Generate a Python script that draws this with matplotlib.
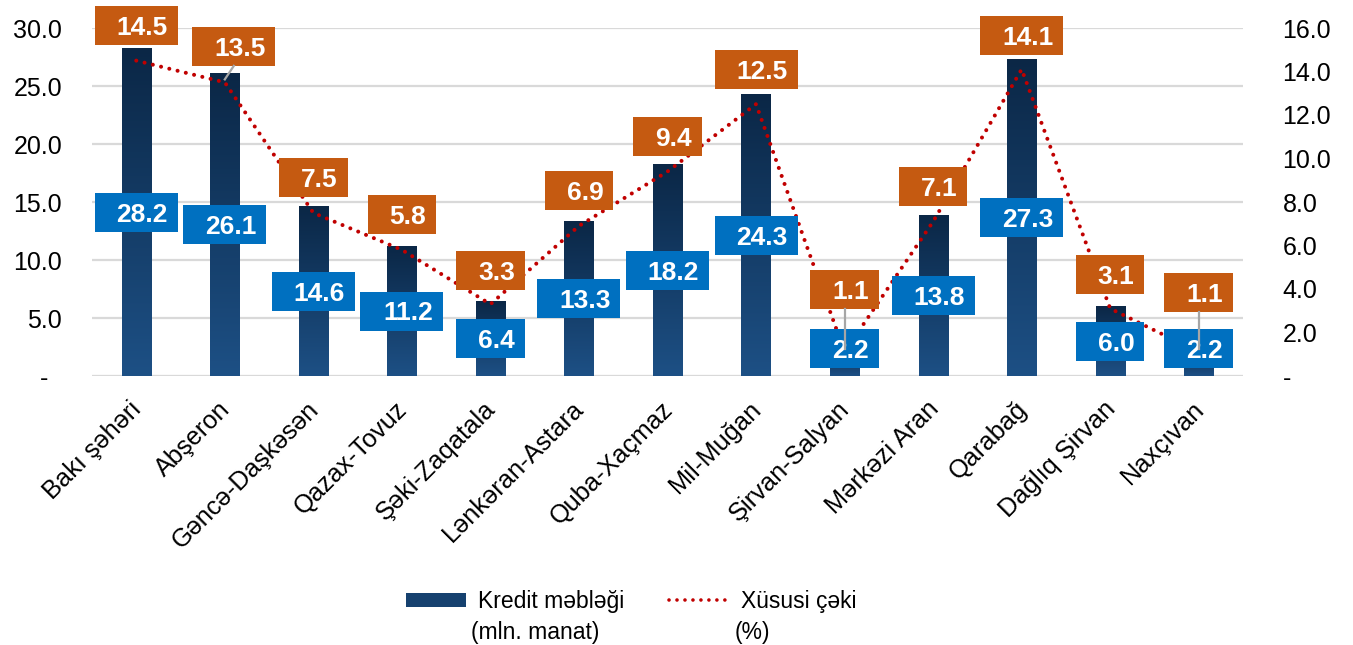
import numpy as np
import matplotlib
matplotlib.use('Agg')
import matplotlib.pyplot as plt
import matplotlib.transforms as mtransforms
from matplotlib.patches import Rectangle, Patch
from matplotlib.lines import Line2D
from matplotlib.colors import LinearSegmentedColormap

# ---------------- data ----------------
regions = ["Bakı şəhəri", "Abşeron", "Gəncə-Daşkəsən", "Qazax-Tovuz", "Şəki-Zaqatala",
           "Lənkəran-Astara", "Quba-Xaçmaz", "Mil-Muğan", "Şirvan-Salyan", "Mərkəzi Aran",
           "Qarabağ", "Dağlıq Şirvan", "Naxçıvan"]
credit = [28.2, 26.1, 14.6, 11.2, 6.4, 13.3, 18.2, 24.3, 2.2, 13.8, 27.3, 6.0, 2.2]
share = [14.5, 13.5, 7.5, 5.8, 3.3, 6.9, 9.4, 12.5, 1.1, 7.1, 14.1, 3.1, 1.1]
left_ticks = [0, 5, 10, 15, 20, 25, 30]
right_ticks = [0, 2, 4, 6, 8, 10, 12, 14, 16]
legend_first = ["Kredit məbləği", "Xüsusi çəki"]
legend_second = ["(mln. manat)", "(%)"]

# ---------------- style ----------------
plt.rcParams['font.family'] = ['Liberation Sans', 'DejaVu Sans']
W, H = 1353, 645
BAR_TOP = '#0b2746'
BAR_BOT = '#1d5085'
BLUE = '#0070c0'
ORANGE = '#c55a11'
RED = '#c00000'
GRID = '#d9d9d9'
LEADER = '#a6a6a6'

# label offsets in pixels (layout only)
orange_off = [(0, 35), (9, 36), (0, 35), (0, 35), (0, 34), (0, 35), (0, 35),
              (0, 35), (0, 63), (0, 35), (0, 34), (0, 34), (0, 60)]
orange_leader = [False, True, False, False, False, False, False, False, True,
                 False, False, False, True]

fig = plt.figure(figsize=(W / 100, H / 100), dpi=100)
ax = fig.add_axes([92 / W, 1 - 376 / H, (1243 - 92) / W, (376 - 28) / H])
ax2 = ax.twinx()

x = np.arange(len(regions))
bw = 0.33

# gradient bars
cmap = LinearSegmentedColormap.from_list('barg', [BAR_TOP, BAR_BOT])
grad = np.linspace(0, 1, 256).reshape(-1, 1)
bars = ax.bar(x, credit, width=bw, color='none', zorder=2)
for b in bars:
    l, w_, h_ = b.get_x(), b.get_width(), b.get_height()
    ax.imshow(grad, cmap=cmap, extent=[l, l + w_, 0, h_], origin='upper',
              aspect='auto', zorder=2, interpolation='bilinear')

ax.set_xlim(-0.5, len(regions) - 0.5)
ax.set_ylim(0, 30)
ax2.set_ylim(0, 16)

ax.set_yticks(left_ticks)
ax.set_yticklabels(['-  ' if t == 0 else f'{t:.1f}' for t in left_ticks])
ax2.set_yticks(right_ticks)
ax2.set_yticklabels(['-' if t == 0 else f'{t:.1f}' for t in right_ticks])
ax.grid(axis='y', color=GRID, lw=1.6, zorder=0)
ax.set_axisbelow(True)
for a in (ax, ax2):
    for s in ('top', 'left', 'right', 'bottom'):
        a.spines[s].set_visible(False)
ax.axhline(0, color=GRID, lw=2.2, zorder=1.5)

ax.tick_params(axis='y', length=0, labelsize=18, pad=21.5, colors='black')
ax2.tick_params(axis='y', length=0, labelsize=18, pad=28.5, colors='black')
ax.set_xticks(x)
ax.set_xticklabels(regions, rotation=45, ha='right', rotation_mode='anchor', fontsize=18.3)
ax.tick_params(axis='x', length=0, pad=15)
off = mtransforms.ScaledTranslation(-7 / 100, 0, fig.dpi_scale_trans)
for lbl in ax.get_xticklabels():
    lbl.set_transform(lbl.get_transform() + off)

# line
ax2.plot(x, share, color=RED, lw=2.9, linestyle=(0, (0.01, 2.1)),
         dash_capstyle='round', zorder=3)

FS = 19
EM = FS * 100 / 72
CAP = 0.716 * EM
BH = 39


def place_box(axis, xd, yd, txt, fc, dx, dy, z, leader=False):
    tr = mtransforms.Affine2D() + mtransforms.ScaledTranslation(xd, yd, axis.transData)
    bwid = 14.5 * len(txt) + 25
    r = Rectangle((dx - bwid / 2, dy - BH / 2), bwid, BH, transform=tr, facecolor=fc,
                  edgecolor='none', zorder=z, clip_on=False)
    axis.add_artist(r)
    axis.text(dx + 6, dy - CAP / 2, txt, transform=tr, ha='center', va='baseline',
              color='white', fontsize=FS, fontweight='bold', zorder=z + 0.1, clip_on=False)
    if leader:
        axis.add_line(Line2D([0, dx], [3, dy - BH / 2], transform=tr, color=LEADER,
                             lw=1.6, zorder=z + 0.5, clip_on=False))


# blue labels (centre of bars, kept above baseline)
px_per_unit = (376 - 28) / 30.0
for i, v in enumerate(credit):
    mid_px = v / 2 * px_per_unit
    dy = max(0.0, BH / 2 + 8 - mid_px)
    place_box(ax2, x[i], v / 2 * 16 / 30, f'{v:.1f}', BLUE, 0, dy, 4)

for i, v in enumerate(share):
    dx, dy = orange_off[i]
    place_box(ax2, x[i], v, f'{v:.1f}', ORANGE, dx, dy, 5, leader=orange_leader[i])

# legend
LFS = 16.5
handles = [Patch(facecolor='#16416f', edgecolor='none'),
           Line2D([0], [0], color=RED, lw=2.6, linestyle=(0, (0.01, 2.2)),
                  dash_capstyle='round')]
leg = fig.legend(handles, legend_first, loc='upper left',
                 bbox_to_anchor=(406 / W, 1 - 590 / H),
                 ncol=2, frameon=False, fontsize=LFS, handlelength=2.6, handleheight=0.6,
                 handletextpad=0.55, columnspacing=1.95, borderaxespad=0, borderpad=0)
fig.canvas.draw()
for t, s2 in zip(leg.get_texts(), legend_second):
    bb = t.get_window_extent()
    fig.text((bb.x0 - 7) / W, (bb.y0 - 31) / H, s2, fontsize=LFS,
             ha='left', va='bottom')

fig.savefig('out.png', dpi=100)
